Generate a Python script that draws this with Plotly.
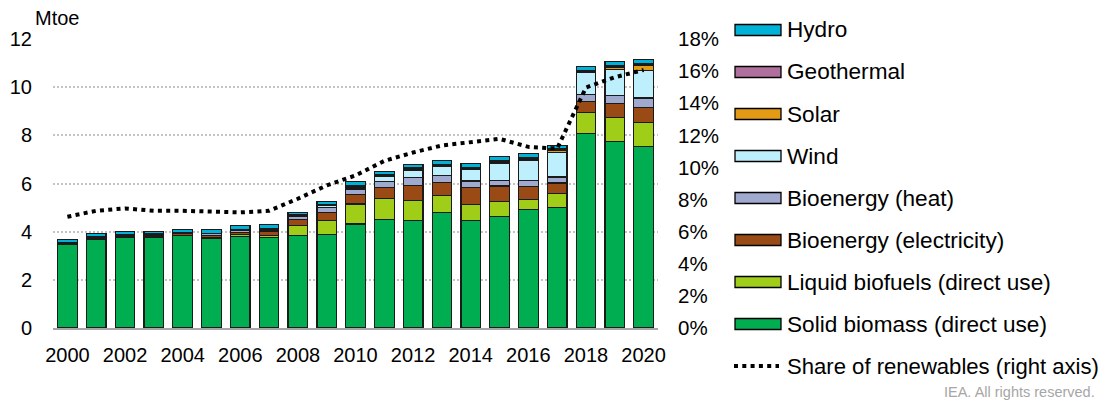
import plotly.graph_objects as go

years = list(range(2000, 2021))
solid = [3.47, 3.69, 3.76, 3.76, 3.83, 3.72, 3.80, 3.77, 3.85, 3.89, 4.32, 4.50, 4.48, 4.78, 4.46, 4.64, 4.91, 5.01, 8.07, 7.76, 7.52]
liquid = [0.00, 0.01, 0.01, 0.02, 0.02, 0.04, 0.08, 0.08, 0.41, 0.59, 0.83, 0.88, 0.80, 0.73, 0.67, 0.62, 0.41, 0.59, 0.88, 0.99, 1.01]
bioelec = [0.04, 0.05, 0.05, 0.06, 0.06, 0.09, 0.10, 0.15, 0.25, 0.32, 0.41, 0.46, 0.63, 0.52, 0.69, 0.64, 0.55, 0.42, 0.46, 0.57, 0.62]
bioheat = [0.03, 0.04, 0.04, 0.05, 0.04, 0.06, 0.06, 0.07, 0.11, 0.20, 0.21, 0.24, 0.34, 0.31, 0.28, 0.24, 0.26, 0.25, 0.27, 0.33, 0.40]
wind = [0.00, 0.00, 0.00, 0.00, 0.00, 0.01, 0.02, 0.04, 0.05, 0.08, 0.08, 0.21, 0.30, 0.36, 0.48, 0.71, 0.82, 1.02, 0.92, 1.07, 1.15]
solar = [0.00, 0.00, 0.00, 0.00, 0.00, 0.00, 0.00, 0.00, 0.00, 0.01, 0.03, 0.03, 0.04, 0.05, 0.05, 0.06, 0.07, 0.08, 0.05, 0.10, 0.20]
geothermal = [0.02, 0.02, 0.02, 0.03, 0.02, 0.02, 0.03, 0.03, 0.03, 0.02, 0.02, 0.05, 0.05, 0.05, 0.05, 0.05, 0.05, 0.06, 0.04, 0.06, 0.06]
hydro = [0.13, 0.12, 0.13, 0.09, 0.13, 0.14, 0.15, 0.17, 0.11, 0.15, 0.17, 0.13, 0.14, 0.17, 0.15, 0.16, 0.17, 0.15, 0.16, 0.17, 0.19]
share = [6.93, 7.30, 7.45, 7.30, 7.30, 7.22, 7.20, 7.30, 8.05, 8.88, 9.50, 10.41, 10.93, 11.37, 11.57, 11.78, 11.28, 11.18, 14.98, 15.62, 16.07]

series = [
    ("Solid biomass (direct use)", solid, "#00AD50"),
    ("Liquid biofuels (direct use)", liquid, "#A0CD18"),
    ("Bioenergy (electricity)", bioelec, "#9A4A14"),
    ("Bioenergy (heat)", bioheat, "#A0A9CE"),
    ("Wind", wind, "#BDEFFC"),
    ("Solar", solar, "#E39A14"),
    ("Geothermal", geothermal, "#B0709E"),
    ("Hydro", hydro, "#00B1D8"),
]
share_name = "Share of renewables (right axis)"

FONT = "Liberation Sans, Arial, sans-serif"
OFF = 8  # default page body margin
W, H = 1108 - OFF, 403 - OFF
L, R, T, B = 53 - OFF, 658 - OFF, 39 - OFF, 328 - OFF

fig = go.Figure()
for name, vals, col in series:
    fig.add_trace(go.Bar(x=years, y=vals, name=name, marker=dict(color=col, line=dict(color="#1a1a1a", width=1.2)),
                         showlegend=False))
fig.add_trace(go.Scatter(x=years, y=share, yaxis="y2", mode="lines", name=share_name,
                         line=dict(color="black", width=4, dash="4px,4.3px"), showlegend=False))

# helpers: convert page pixel positions (reference image) to paper coordinates
def px_x(p):
    return (p - OFF - L) / (R - L)

def px_y(p):
    return (B - (p - OFF)) / (B - T)

shapes = []
annotations = []
legend_items = [(s[0], s[2]) for s in series][::-1]
for i, (name, col) in enumerate(legend_items):
    yc = 30 + 42 * i
    shapes.append(dict(type="rect", xref="paper", yref="paper", x0=px_x(735), x1=px_x(781),
                       y0=px_y(yc + 5.5), y1=px_y(yc - 5.5), fillcolor=col, line=dict(color="black", width=1.3)))
    annotations.append(dict(text=name, xref="paper", yref="paper", x=px_x(785), y=px_y(yc), xanchor="left",
                            yanchor="middle", showarrow=False, font=dict(size=22.6, color="black", family=FONT)))
yc = 30 + 42 * 8
shapes.append(dict(type="line", xref="paper", yref="paper", x0=px_x(734), x1=px_x(779), y0=px_y(yc), y1=px_y(yc),
                   line=dict(color="black", width=4, dash="4px,4.3px")))
annotations.append(dict(text=share_name, xref="paper", yref="paper", x=px_x(785), y=px_y(yc), xanchor="left",
                        yanchor="middle", showarrow=False, font=dict(size=22.1, color="black", family=FONT)))
annotations.append(dict(text="Mtoe", xref="paper", yref="paper", x=px_x(33), y=px_y(18), xanchor="left",
                        yanchor="middle", showarrow=False, font=dict(size=20, color="black", family=FONT)))
annotations.append(dict(text="IEA. All rights reserved.", xref="paper", yref="paper", x=px_x(1097), y=px_y(392),
                        xanchor="right", yanchor="middle", showarrow=False, font=dict(size=14.5, color="#a6a6a6", family=FONT)))

fig.update_layout(
    width=W, height=H, barmode="stack", bargap=0.32,
    margin=dict(l=L, r=W - R, t=T, b=H - B, pad=0, autoexpand=False),
    paper_bgcolor="white", plot_bgcolor="white",
    font=dict(family=FONT, size=20, color="black"),
    xaxis=dict(range=[1999.5, 2020.5], tickvals=years[::2], ticktext=[str(y) for y in years[::2]],
               showline=True, linecolor="#a6a6a6", linewidth=2, showgrid=False, ticks="", ticklabelstandoff=8,
               zeroline=False, automargin=False),
    yaxis=dict(range=[0, 12], dtick=2, showgrid=True, gridcolor="#c4c4c4", griddash="2px,2px", gridwidth=1.5,
               zeroline=False, showline=False, ticks="", ticklabelstandoff=20, automargin=False),
    yaxis2=dict(range=[0, 18], dtick=2, overlaying="y", side="right", showgrid=False, zeroline=False,
                ticksuffix="%", ticks="", ticklabelstandoff=19, automargin=False, tickfont=dict(size=20.5)),
    shapes=shapes, annotations=annotations,
)
fig.write_html("out.html")
